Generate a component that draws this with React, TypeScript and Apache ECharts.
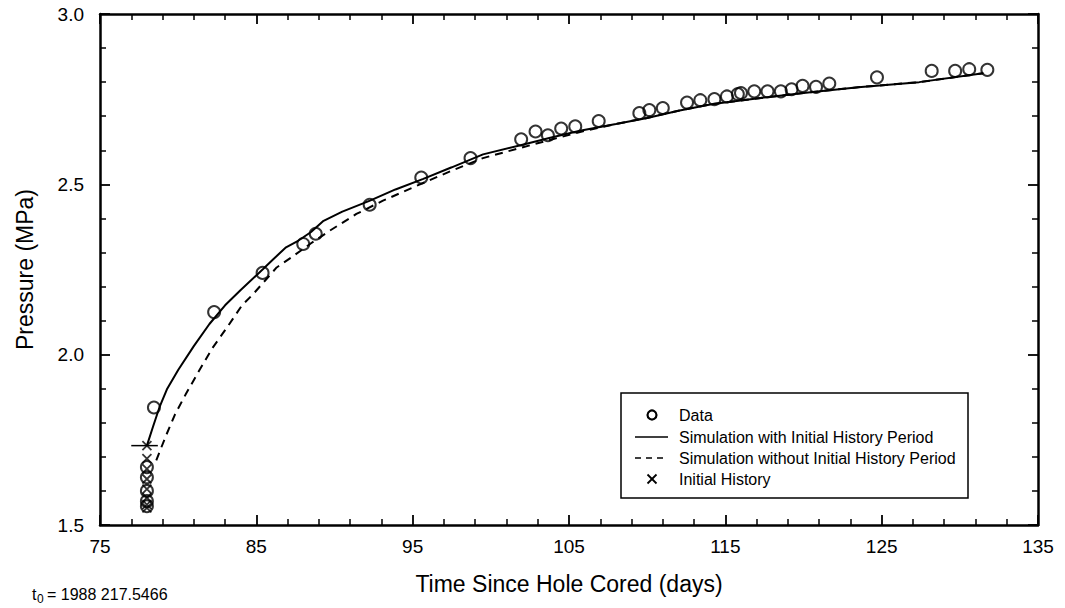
import React, { useEffect, useRef } from "react";
import * as echarts from "echarts";

// Measured pressure (open circles)
const dataDays = [
  78.0, 78.0, 78.0, 78.0, 78.0, 78.45, 82.3, 85.4, 88.0, 88.8, 92.25, 95.55, 98.7,
  101.94, 102.86, 103.65, 104.5, 105.4, 106.9, 109.5, 110.14, 111.0, 112.55, 113.4,
  114.3, 115.1, 115.8, 116.0, 116.85, 117.7, 118.55, 119.24, 119.94, 120.8, 121.65,
  124.7, 128.2, 129.7, 130.6, 131.76,
];
const dataPressure = [
  1.555, 1.57, 1.6, 1.64, 1.67, 1.845, 2.125, 2.24, 2.325, 2.355, 2.44, 2.52, 2.577,
  2.632, 2.655, 2.644, 2.664, 2.67, 2.686, 2.709, 2.718, 2.724, 2.74, 2.747,
  2.75, 2.758, 2.765, 2.768, 2.773, 2.773, 2.773, 2.779, 2.789, 2.786, 2.796,
  2.814, 2.833, 2.833, 2.838, 2.836,
];

// Initial history (crosses)
const historyDays = [78.0, 78.0, 78.0, 78.0, 78.0, 78.0, 78.0, 78.0];
const historyPressure = [1.733, 1.695, 1.665, 1.635, 1.605, 1.58, 1.56, 1.55];

// Start level of the initial history period
const startLevelDays = [77.0, 78.7];
const startLevelPressure = [1.733, 1.733];

// Simulation with initial history period (solid)
const simWithDays = [
  78.0, 78.4, 78.8, 79.3, 80.0, 81.0, 82.0, 83.0, 84.0, 85.45, 86.1, 86.9, 87.7, 88.5,
  89.3, 90.5, 92.27, 93.9, 95.68, 97.5, 99.5, 101.9, 103.8, 105.7, 108.0, 110.0, 112.0,
  114.2, 117.0, 120.0, 123.5, 127.4, 131.5,
];
const simWithPressure = [
  1.733, 1.79, 1.845, 1.9, 1.955, 2.025, 2.09, 2.145, 2.19, 2.252, 2.281, 2.315, 2.335,
  2.36, 2.393, 2.42, 2.452, 2.485, 2.516, 2.55, 2.588, 2.615, 2.637, 2.657, 2.677, 2.695,
  2.716, 2.736, 2.752, 2.768, 2.785, 2.8, 2.826,
];

// Simulation without initial history period (dashed)
const simWithoutDays = [
  78.6, 79.2, 79.8, 80.5, 81.3, 82.2, 83.2, 84.07, 84.8, 86.3, 87.26, 88.5, 89.7, 91.4,
  93.1, 95.47, 97.5, 99.5, 101.9, 104.0, 106.0, 108.0, 110.0, 112.0, 114.2, 117.0,
  120.0, 123.5, 127.4, 131.5,
];
const simWithoutPressure = [
  1.69, 1.76, 1.825, 1.885, 1.95, 2.02, 2.085, 2.144, 2.178, 2.256, 2.286, 2.327, 2.364,
  2.413, 2.452, 2.5, 2.54, 2.577, 2.607, 2.633, 2.657, 2.677, 2.695, 2.716, 2.736, 2.752,
  2.768, 2.785, 2.8, 2.826,
];

const legendLabels = [
  "Data",
  "Simulation with Initial History Period",
  "Simulation without Initial History Period",
  "Initial History",
];

const FONT = "'Liberation Sans', Arial, Helvetica, sans-serif";
const X_SYMBOL = "path://M0,0L10,10M10,0L0,10";

const pairs = (xs: number[], ys: number[]) => xs.map((x, i) => [x, ys[i]]);

export default function App() {
  const ref = useRef<HTMLDivElement>(null);

  useEffect(() => {
    if (!ref.current) return;
    const chart = echarts.init(ref.current, null, { renderer: "svg" });

    const axisLine = { show: true, lineStyle: { color: "#000", width: 2.5 } };
    const axisTick = { show: true, inside: true, length: 10, lineStyle: { color: "#000", width: 1.8 } };
    const minorTick = { show: true, splitNumber: 5, length: 6, lineStyle: { color: "#000", width: 1.5 } };

    const xBase = {
      type: "value" as const,
      min: 75,
      max: 135,
      interval: 10,
      axisLine,
      axisTick,
      minorTick,
      splitLine: { show: false },
    };
    const yBase = {
      type: "value" as const,
      min: 1.5,
      max: 3.0,
      interval: 0.5,
      axisLine,
      axisTick,
      minorTick,
      splitLine: { show: false },
    };

    const legendX = 621;
    const legendY = 393;
    const rowY = [415, 437, 458, 479];
    const iconX = 652;
    const textX = 679;

    chart.setOption({
      animation: false,
      backgroundColor: "#fff",
      textStyle: { fontFamily: FONT, color: "#000" },
      grid: { left: 100, right: 27, top: 14, bottom: 83 },
      xAxis: [
        {
          ...xBase,
          position: "bottom",
          axisLabel: { color: "#000", fontSize: 19, fontFamily: FONT, margin: 12 },
          name: "Time Since Hole Cored (days)",
          nameLocation: "middle",
          nameGap: 47,
          nameTextStyle: { color: "#000", fontSize: 23, fontFamily: FONT },
        },
        { ...xBase, position: "top", axisLabel: { show: false } },
      ],
      yAxis: [
        {
          ...yBase,
          position: "left",
          axisLabel: {
            color: "#000",
            fontSize: 19,
            fontFamily: FONT,
            margin: 16,
            formatter: (v: number) => v.toFixed(1),
          },
          name: "Pressure (MPa)",
          nameLocation: "middle",
          nameGap: 64,
          nameTextStyle: { color: "#000", fontSize: 23, fontFamily: FONT },
        },
        { ...yBase, position: "right", axisLabel: { show: false } },
      ],
      series: [
        {
          name: legendLabels[1],
          type: "line",
          data: pairs(simWithDays, simWithPressure),
          showSymbol: false,
          symbol: "none",
          smooth: false,
          lineStyle: { color: "#000", width: 2 },
          silent: true,
          z: 2,
        },
        {
          name: legendLabels[2],
          type: "line",
          data: pairs(simWithoutDays, simWithoutPressure),
          showSymbol: false,
          symbol: "none",
          lineStyle: { color: "#000", width: 2, type: [8, 6] },
          silent: true,
          z: 2,
        },
        {
          name: "start level",
          type: "line",
          data: pairs(startLevelDays, startLevelPressure),
          showSymbol: false,
          symbol: "none",
          lineStyle: { color: "#000", width: 1.5 },
          silent: true,
          z: 2,
        },
        {
          name: legendLabels[0],
          type: "scatter",
          data: pairs(dataDays, dataPressure),
          symbol: "circle",
          symbolSize: 12,
          itemStyle: { color: "rgba(0,0,0,0)", borderColor: "#000", borderWidth: 2 },
          silent: true,
          z: 3,
        },
        {
          name: legendLabels[3],
          type: "scatter",
          data: pairs(historyDays, historyPressure),
          symbol: X_SYMBOL,
          symbolSize: 9,
          itemStyle: { color: "none", borderColor: "#000", borderWidth: 1.8 },
          silent: true,
          z: 4,
        },
      ],
      graphic: [
        {
          type: "group",
          z: 100,
          children: [
            {
              type: "rect",
              shape: { x: legendX, y: legendY, width: 347, height: 105 },
              style: { fill: "#fff", stroke: "#000", lineWidth: 1.5 },
            },
            {
              type: "circle",
              shape: { cx: iconX, cy: rowY[0], r: 4.5 },
              style: { fill: "none", stroke: "#000", lineWidth: 2.2 },
            },
            {
              type: "line",
              shape: { x1: 635, y1: rowY[1], x2: 668, y2: rowY[1] },
              style: { stroke: "#000", lineWidth: 1.6 },
            },
            {
              type: "line",
              shape: { x1: 635, y1: rowY[2], x2: 668, y2: rowY[2] },
              style: { stroke: "#000", lineWidth: 1.6, lineDash: [6, 5] },
            },
            {
              type: "line",
              shape: { x1: iconX - 4.5, y1: rowY[3] - 4.5, x2: iconX + 4.5, y2: rowY[3] + 4.5 },
              style: { stroke: "#000", lineWidth: 1.8 },
            },
            {
              type: "line",
              shape: { x1: iconX + 4.5, y1: rowY[3] - 4.5, x2: iconX - 4.5, y2: rowY[3] + 4.5 },
              style: { stroke: "#000", lineWidth: 1.8 },
            },
            ...legendLabels.map((label, i) => ({
              type: "text",
              x: textX,
              y: rowY[i],
              style: {
                text: label,
                fill: "#000",
                font: `16px ${FONT}`,
                textVerticalAlign: "middle",
                verticalAlign: "middle",
              },
            })),
          ],
        },
        {
          type: "group",
          children: [
            {
              type: "text",
              x: 32,
              y: 594,
              style: { text: "t", fill: "#000", font: `16px ${FONT}`, verticalAlign: "middle" },
            },
            {
              type: "text",
              x: 37,
              y: 599,
              style: { text: "0", fill: "#000", font: `12px ${FONT}`, verticalAlign: "middle" },
            },
            {
              type: "text",
              x: 47,
              y: 594,
              style: { text: "= 1988 217.5466", fill: "#000", font: `16px ${FONT}`, verticalAlign: "middle" },
            },
          ],
        },
      ],
    });

    return () => chart.dispose();
  }, []);

  return (
    <div
      ref={ref}
      style={{ position: "absolute", left: 0, top: 0, width: 1065, height: 608, background: "#fff" }}
    />
  );
}
